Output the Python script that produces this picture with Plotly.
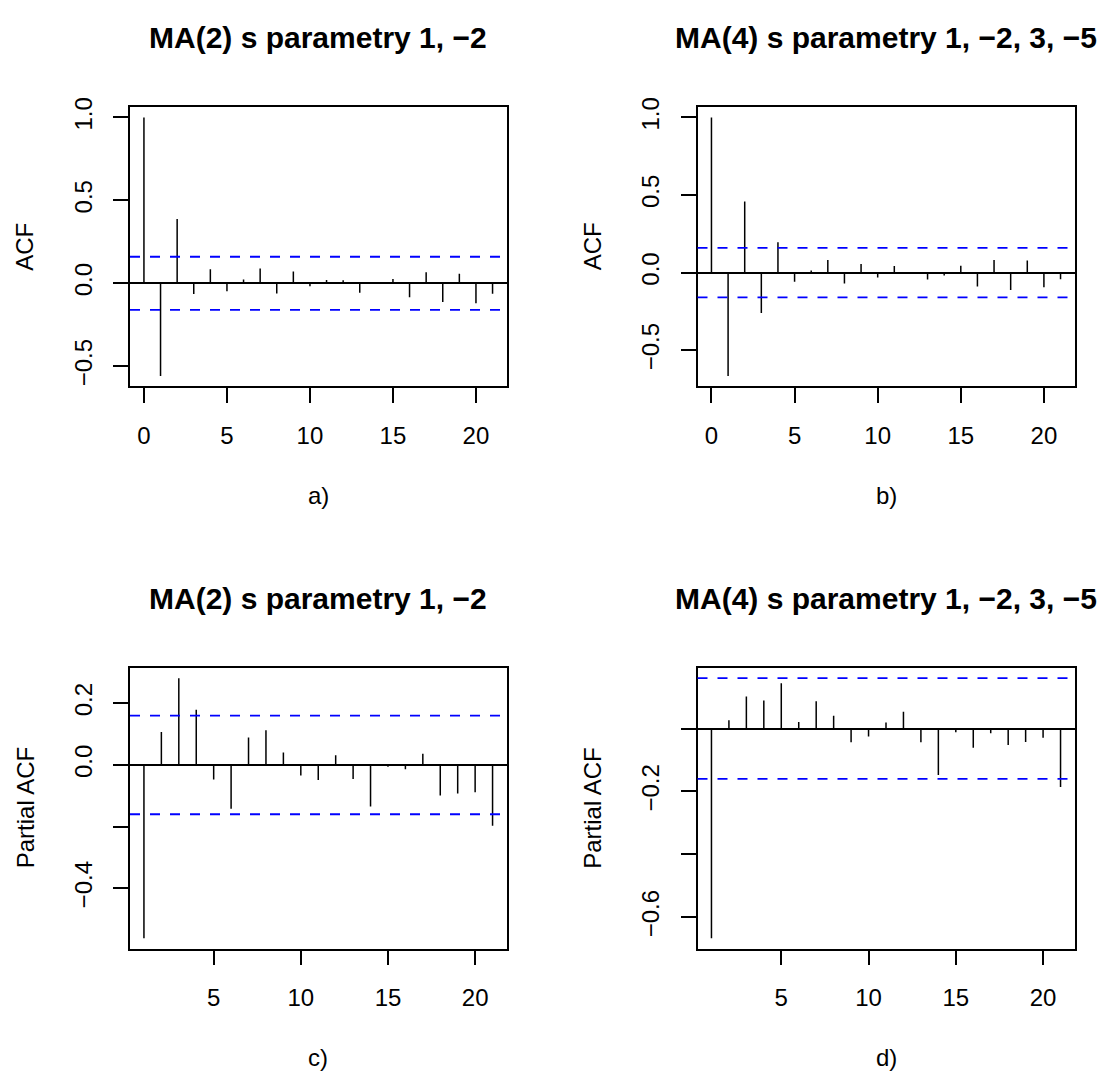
import plotly.graph_objects as go

# ---------------- data ----------------
lags_acf = list(range(0, 22))
lags_pacf = list(range(1, 22))

acf_ma2 = [1.0, -0.56, 0.387, -0.065, 0.085, -0.048, 0.022, 0.089, -0.062, 0.071,
           -0.018, 0.020, 0.018, -0.058, -0.004, 0.026, -0.085, 0.067, -0.113, 0.058,
           -0.121, -0.063]
acf_ma4 = [1.0, -0.667, 0.458, -0.261, 0.195, -0.059, 0.013, 0.081, -0.070, 0.055,
           -0.032, 0.042, 0.003, -0.044, -0.019, 0.044, -0.089, 0.081, -0.112, 0.078,
           -0.095, -0.042]
pacf_ma2 = [-0.562, 0.107, 0.281, 0.179, -0.047, -0.142, 0.089, 0.112, 0.040, -0.034,
            -0.049, 0.031, -0.046, -0.135, -0.006, -0.014, 0.036, -0.099, -0.093, -0.089,
            -0.197]
pacf_ma4 = [-0.667, 0.026, 0.102, 0.089, 0.144, 0.021, 0.087, 0.041, -0.044, -0.025,
            0.019, 0.053, -0.044, -0.148, -0.012, -0.061, -0.015, -0.052, -0.043, -0.029,
            -0.186]
conf_limit = 0.16

titles = ["MA(2) s parametry 1, −2", "MA(4) s parametry 1, −2, 3, −5",
          "MA(2) s parametry 1, −2", "MA(4) s parametry 1, −2, 3, −5"]
captions = ["a)", "b)", "c)", "d)"]
ylabels = ["ACF", "ACF", "Partial ACF", "Partial ACF"]

xtick_acf = [0, 5, 10, 15, 20]
xtick_pacf = [5, 10, 15, 20]
ytick_vals = [[-0.5, 0.0, 0.5, 1.0], [-0.5, 0.0, 0.5, 1.0],
              [-0.4, -0.2, 0.0, 0.2], [-0.6, -0.4, -0.2, 0.0]]
ytick_text = [["−0.5", "0.0", "0.5", "1.0"], ["−0.5", "0.0", "0.5", "1.0"],
              ["−0.4", "", "0.0", "0.2"], ["−0.6", "", "−0.2", ""]]

# ---------------- layout geometry ----------------
W, H = 1109, 1073
boxes = [  # left, right, top, bottom in pixels
    (130, 506.5, 98, 380),
    (697.5, 1074.5, 98, 380),
    (130, 506.5, 664, 947.5),
    (697.5, 1074.5, 664, 947.5),
]
FONT = "Liberation Sans, Arial, Helvetica, sans-serif"
TICKFONT = 24
TITLEFONT = 30
LW = 1.5

panels = [
    (lags_acf, acf_ma2, xtick_acf),
    (lags_acf, acf_ma4, xtick_acf),
    (lags_pacf, pacf_ma2, xtick_pacf),
    (lags_pacf, pacf_ma4, xtick_pacf),
]

fig = go.Figure()
shapes = []
annotations = []
layout_axes = {}

for i, (lags, vals, xt) in enumerate(panels):
    n = i + 1
    sx = "" if n == 1 else str(n)
    xname, yname = "x" + sx, "y" + sx
    l, r, t, b = boxes[i]

    xs, ys = [], []
    for lag, v in zip(lags, vals):
        xs += [lag, lag, None]
        ys += [0, v, None]
    fig.add_trace(go.Scatter(x=xs, y=ys, mode="lines", xaxis=xname, yaxis=yname,
                             line=dict(color="black", width=LW), showlegend=False,
                             hoverinfo="skip"))

    lo = min(min(vals), -conf_limit)
    hi = max(max(vals), conf_limit)
    pad = 0.04 * (hi - lo)
    xlo, xhi = min(lags), max(lags)
    xpad = 0.04 * (xhi - xlo)

    layout_axes["xaxis" + sx] = dict(
        domain=[l / W, r / W], anchor=yname, range=[xlo - xpad, xhi + xpad],
        tickvals=xt, ticktext=[str(v) for v in xt], ticks="outside", ticklen=15,
        tickwidth=LW, tickcolor="black", showline=True, mirror=True,
        linecolor="black", linewidth=LW, showgrid=False, zeroline=False,
        tickfont=dict(family=FONT, size=TICKFONT, color="black"),
        ticklabelstandoff=12, fixedrange=True)
    layout_axes["yaxis" + sx] = dict(
        domain=[1 - b / H, 1 - t / H], anchor=xname, range=[lo - pad, hi + pad],
        tickvals=ytick_vals[i], ticktext=ytick_text[i], ticks="outside", ticklen=15,
        tickwidth=LW, tickcolor="black", tickangle=-90, showline=True, mirror=True,
        linecolor="black", linewidth=LW, showgrid=False, zeroline=True,
        zerolinecolor="black", zerolinewidth=LW,
        tickfont=dict(family=FONT, size=TICKFONT, color="black"),
        ticklabelstandoff=12, fixedrange=True)

    for c in (conf_limit, -conf_limit):
        shapes.append(dict(type="line", xref=xname + " domain", yref=yname,
                           x0=0, x1=1, y0=c, y1=c,
                           line=dict(color="#0000FF", width=1.8, dash="10px,10px")))

    cx = (l + r) / 2
    annotations.append(dict(text=titles[i], x=cx / W, y=1 - (t - 70) / H,
                            xref="paper", yref="paper", xanchor="center", yanchor="middle",
                            showarrow=False,
                            font=dict(family=FONT, size=TITLEFONT, color="black", weight="bold")))
    annotations.append(dict(text=captions[i], x=cx / W, y=1 - (b + 110) / H,
                            xref="paper", yref="paper", xanchor="center", yanchor="middle",
                            showarrow=False,
                            font=dict(family=FONT, size=TICKFONT, color="black")))
    annotations.append(dict(text=ylabels[i], x=(l - 105) / W, y=1 - ((t + b) / 2) / H,
                            xref="paper", yref="paper", xanchor="center", yanchor="middle",
                            textangle=-90, showarrow=False,
                            font=dict(family=FONT, size=TICKFONT, color="black")))

fig.update_layout(width=W, height=H, margin=dict(l=0, r=0, t=0, b=0),
                  paper_bgcolor="white", plot_bgcolor="white",
                  shapes=shapes, annotations=annotations, showlegend=False,
                  **layout_axes)

fig.write_html("out.html")
